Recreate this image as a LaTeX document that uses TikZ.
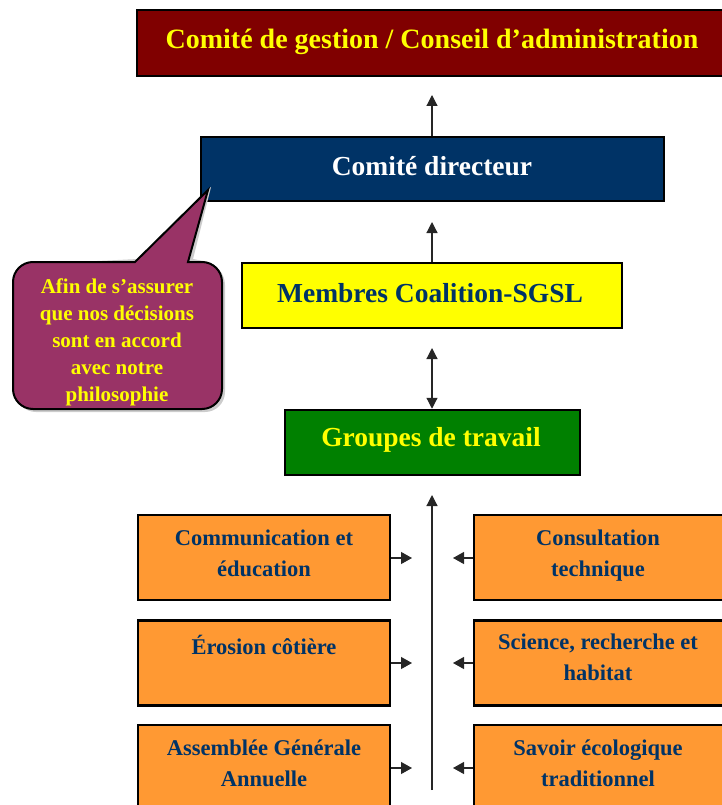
\documentclass[tikz,border=0pt]{standalone}
\usepackage{fontspec}
\setmainfont{Liberation Serif}
\usetikzlibrary{arrows.meta}
\definecolor{cdark}{HTML}{800000}
\definecolor{cnavy}{HTML}{003366}
\definecolor{cyel}{HTML}{FFFF00}
\definecolor{cgreen}{HTML}{008000}
\definecolor{corange}{HTML}{FF9933}
\definecolor{cpurple}{HTML}{993366}
\tikzset{
  box/.style={draw=black, line width=2.5, rectangle, inner sep=0},
  obox/.style={box, fill=corange, minimum width=252, minimum height=85},
  otext/.style={anchor=north, align=center, text=cnavy, font=\bfseries\fontsize{22.5}{31}\selectfont},
  conn/.style={line width=1.2, draw=black!85, -{Triangle[width=11,length=11]}},
  sconn/.style={line width=1.2, draw=black!85, -{Triangle[width=12,length=11]}},
}
\begin{document}
\begin{tikzpicture}[x=1pt,y=-1pt]
\useasboundingbox (0,0) rectangle (721,805);
% top
\node[box, fill=cdark, minimum width=600, minimum height=66] (top) at (437,43) {};
\node[text=cyel, font=\bfseries\fontsize{28}{32}\selectfont] (toptxt) at (432,42) {Comité de gestion / Conseil d'administration};
% comite directeur
\node[box, fill=cnavy, minimum width=463, minimum height=64] (cd) at (432.5,169) {};
\node[text=white, font=\bfseries\fontsize{27.5}{32}\selectfont] (cdtxt) at (432,166) {Comité directeur};
% membres
\node[box, fill=cyel, minimum width=380, minimum height=65] (mem) at (432,295.5) {};
\node[text=cnavy, font=\bfseries\fontsize{27.5}{32}\selectfont] (memtxt) at (430,293) {Membres Coalition-SGSL};
% groupes
\node[box, fill=cgreen, minimum width=295, minimum height=65] (grp) at (432.5,442.5) {};
\node[text=cyel, font=\bfseries\fontsize{27.5}{32}\selectfont] (grptxt) at (431,440) {Groupes de travail};
% vertical arrows
\coordinate (a1) at (432,95);
\coordinate (a2) at (432,222);
\coordinate (a3a) at (432,348);
\draw[conn] (cd.north -| a1) -- (a1);
\draw[conn] (mem.north -| a2) -- (a2);
\draw[line width=1.2, draw=black!85, {Triangle[width=11,length=11]}-{Triangle[width=11,length=11]}] (a3a) -- (grp.north -| a3a);
% orange boxes
\node[obox] (l1) at (264,557.5) {};
\node[obox] (l2) at (264,663) {};
\node[obox, minimum height=100] (l3) at (264,775) {};
\node[obox, minimum width=260] (r1) at (604,557.5) {};
\node[obox, minimum width=260] (r2) at (604,663) {};
\node[obox, minimum width=260, minimum height=100] (r3) at (604,775) {};
\node[otext] (l1t) at (264,526) {Communication et\\éducation};
\node[otext] (l2t) at (264,632) {Érosion côtière};
\node[otext] (l3t) at (264,736) {Assemblée Générale\\Annuelle};
\node[otext] (r1t) at (598,526) {Consultation\\technique};
\node[otext] (r2t) at (598,630) {Science, recherche et\\habitat};
\node[otext] (r3t) at (598,736) {Savoir écologique\\traditionnel};
% central arrow
\coordinate (vb) at (432,790);
\coordinate (vt) at (432,495);
\draw[conn] (vb) -- (vt);
% side arrows
\foreach \b/\y in {l1/558,l2/663,l3/768}{
  \coordinate (\b e) at (412,\y);
  \draw[sconn] (\b.east |- \b e) -- (\b e);
}
\foreach \b/\y in {r1/558,r2/663,r3/768}{
  \coordinate (\b e) at (453,\y);
  \draw[sconn] (\b.west |- \b e) -- (\b e);
}
% callout
\coordinate (tip) at (208,190);
\fill[black!20] ([xshift=3,yshift=3]135,262) -- ([xshift=3,yshift=3]tip) -- ([xshift=3,yshift=3]190,262) [rounded corners=20] -- (225,265) -- (225,412) -- (16,412) -- (16,265) [sharp corners] -- cycle;
\draw[fill=cpurple, line width=2] (135,262) -- (tip) -- (188,262) [rounded corners=20] -- (222,262) -- (222,409) -- (13,409) -- (13,262) [sharp corners] -- cycle;
\node[text=cyel, align=center, font=\bfseries\fontsize{21}{27}\selectfont, anchor=north] (calltxt) at (117,275) {Afin de s'assurer\\que nos décisions\\sont en accord\\avec notre\\philosophie};
\end{tikzpicture}
\end{document}
